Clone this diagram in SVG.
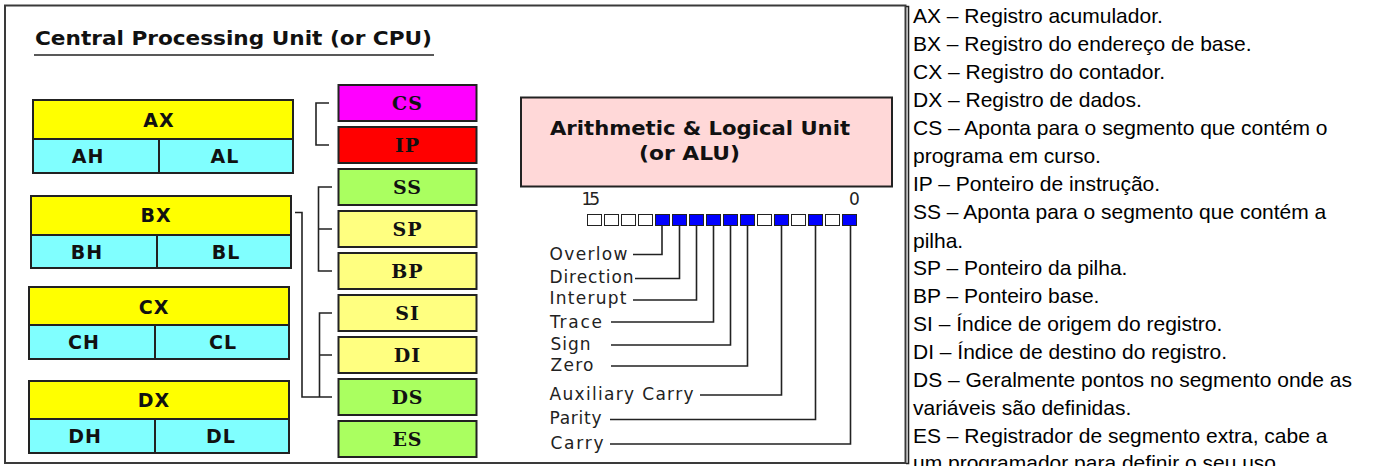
<svg xmlns="http://www.w3.org/2000/svg" width="1375" height="466" viewBox="0 0 1375 466">
  <style>
    .frame { fill: #ffffff; stroke: #3a3a3a; stroke-width: 2; }
    .rule { stroke: #222; stroke-width: 1.6; fill: none; }
    .cell { stroke: #222; stroke-width: 2; }
    .hi { fill: #ffff00; }
    .lo { fill: #80ffff; }
    .seg { stroke: #222; stroke-width: 2; }
    .reglbl { font-family: "DejaVu Sans", sans-serif; font-weight: bold; font-size: 19px; fill: #111; text-anchor: middle; letter-spacing: 1px; }
    .seglbl { font-family: "DejaVu Serif", serif; font-weight: bold; font-size: 19px; fill: #111; text-anchor: middle; letter-spacing: 1px; }
    .title { font-family: "DejaVu Sans", sans-serif; font-weight: bold; font-size: 20px; fill: #111; }
    .flag { font-family: "DejaVu Sans", sans-serif; font-size: 17px; fill: #222; }
    .bit { stroke: #222; stroke-width: 1; }
    .on { fill: #0000ff; }
    .off { fill: #ffffff; }
    .link { stroke: #222; stroke-width: 1.6; fill: none; }
    .note { font-family: "Liberation Sans", Arial, sans-serif; font-size: 21px; fill: #000; }
  </style>

  <!-- outer panel -->
  <rect class="frame" x="5" y="5.5" width="900.5" height="457.5"/>
  <path class="rule" d="M906,6.5 H908.5 V463.5 H906"/>

  <!-- heading -->
  <text class="title" x="35" y="45" textLength="397" lengthAdjust="spacingAndGlyphs">Central Processing Unit (or CPU)</text>
  <line class="rule" x1="34" y1="55" x2="434" y2="55"/>

  <!-- general purpose registers -->
  <g id="reg-ax">
    <rect class="cell hi" x="33" y="100" width="260" height="39"/>
    <rect class="cell lo" x="33" y="139" width="260" height="34"/>
    <line class="cell" x1="159" y1="139" x2="159" y2="173"/>
    <text class="reglbl" x="159" y="127">AX</text>
    <text class="reglbl" x="88" y="163">AH</text>
    <text class="reglbl" x="225" y="163">AL</text>
  </g>
  <g id="reg-bx">
    <rect class="cell hi" x="31" y="196" width="260" height="39"/>
    <rect class="cell lo" x="31" y="235" width="260" height="33"/>
    <line class="cell" x1="157" y1="235" x2="157" y2="268"/>
    <text class="reglbl" x="156" y="222">BX</text>
    <text class="reglbl" x="87" y="259">BH</text>
    <text class="reglbl" x="226" y="259">BL</text>
  </g>
  <g id="reg-cx">
    <rect class="cell hi" x="29" y="287" width="260" height="38"/>
    <rect class="cell lo" x="29" y="325" width="260" height="34"/>
    <line class="cell" x1="155" y1="325" x2="155" y2="359"/>
    <text class="reglbl" x="154" y="314">CX</text>
    <text class="reglbl" x="84" y="349">CH</text>
    <text class="reglbl" x="223" y="349">CL</text>
  </g>
  <g id="reg-dx">
    <rect class="cell hi" x="29" y="381" width="260" height="38"/>
    <rect class="cell lo" x="29" y="419" width="260" height="34"/>
    <line class="cell" x1="155" y1="419" x2="155" y2="453"/>
    <text class="reglbl" x="154" y="407">DX</text>
    <text class="reglbl" x="85" y="443">DH</text>
    <text class="reglbl" x="221" y="443">DL</text>
  </g>

  <!-- segment, pointer and index registers -->
  <g id="reg-cs">
    <rect class="seg" fill="#ff00ff" x="338.5" y="85" width="138" height="36"/>
    <text class="seglbl" x="407.5" y="110">CS</text>
  </g>
  <g id="reg-ip">
    <rect class="seg" fill="#ff0000" x="338.5" y="127" width="138" height="36"/>
    <text class="seglbl" x="407.5" y="152">IP</text>
  </g>
  <g id="reg-ss">
    <rect class="seg" fill="#aaff60" x="338.5" y="169" width="138" height="36"/>
    <text class="seglbl" x="407.5" y="194">SS</text>
  </g>
  <g id="reg-sp">
    <rect class="seg" fill="#ffff80" x="338.5" y="211" width="138" height="36"/>
    <text class="seglbl" x="407.5" y="236">SP</text>
  </g>
  <g id="reg-bp">
    <rect class="seg" fill="#ffff80" x="338.5" y="253" width="138" height="36"/>
    <text class="seglbl" x="407.5" y="278">BP</text>
  </g>
  <g id="reg-si">
    <rect class="seg" fill="#ffff80" x="338.5" y="295" width="138" height="36"/>
    <text class="seglbl" x="407.5" y="320">SI</text>
  </g>
  <g id="reg-di">
    <rect class="seg" fill="#ffff80" x="338.5" y="337" width="138" height="36"/>
    <text class="seglbl" x="407.5" y="362">DI</text>
  </g>
  <g id="reg-ds">
    <rect class="seg" fill="#aaff60" x="338.5" y="379" width="138" height="36"/>
    <text class="seglbl" x="407.5" y="404">DS</text>
  </g>
  <g id="reg-es">
    <rect class="seg" fill="#aaff60" x="338.5" y="421" width="138" height="36"/>
    <text class="seglbl" x="407.5" y="446">ES</text>
  </g>

  <!-- arithmetic and logic unit -->
  <g id="alu">
    <rect class="seg" fill="#ffd8d8" x="521" y="97.5" width="371" height="89"/>
    <text class="title" x="550" y="135" textLength="300" lengthAdjust="spacingAndGlyphs">Arithmetic &amp; Logical Unit</text>
    <text class="title" x="639" y="160" textLength="101" lengthAdjust="spacingAndGlyphs">(or ALU)</text>
  </g>

  <!-- flags register, bit 15 on the left -->
  <g id="flags">
    <text class="flag" x="581.5" y="205" font-size="15" textLength="18.5" lengthAdjust="spacing">15</text>
    <text class="flag" x="849" y="205" font-size="15">0</text>
    <rect class="bit off" x="587.5" y="214.5" width="14" height="11"/>
    <rect class="bit off" x="604.5" y="214.5" width="14" height="11"/>
    <rect class="bit off" x="621.5" y="214.5" width="14" height="11"/>
    <rect class="bit off" x="638.5" y="214.5" width="14" height="11"/>
    <rect class="bit on" x="655.5" y="214.5" width="14" height="11"/>
    <rect class="bit on" x="672.5" y="214.5" width="14" height="11"/>
    <rect class="bit on" x="689.5" y="214.5" width="14" height="11"/>
    <rect class="bit on" x="706.5" y="214.5" width="14" height="11"/>
    <rect class="bit on" x="723.5" y="214.5" width="14" height="11"/>
    <rect class="bit on" x="740.5" y="214.5" width="14" height="11"/>
    <rect class="bit off" x="757.5" y="214.5" width="14" height="11"/>
    <rect class="bit on" x="774.5" y="214.5" width="14" height="11"/>
    <rect class="bit off" x="791.5" y="214.5" width="14" height="11"/>
    <rect class="bit on" x="808.5" y="214.5" width="14" height="11"/>
    <rect class="bit off" x="825.5" y="214.5" width="14" height="11"/>
    <rect class="bit on" x="842.5" y="214.5" width="14" height="11"/>

    <text class="flag" x="549.5" y="260" textLength="78" lengthAdjust="spacing">Overlow</text>
    <text class="flag" x="549.5" y="282.5" textLength="84" lengthAdjust="spacing">Direction</text>
    <text class="flag" x="549.5" y="303.5" textLength="77" lengthAdjust="spacing">Interupt</text>
    <text class="flag" x="550" y="327.5" textLength="52" lengthAdjust="spacing">Trace</text>
    <text class="flag" x="550.5" y="350" textLength="40" lengthAdjust="spacing">Sign</text>
    <text class="flag" x="550.5" y="371" textLength="43" lengthAdjust="spacing">Zero</text>
    <text class="flag" x="549.5" y="400" textLength="144" lengthAdjust="spacing">Auxiliary Carry</text>
    <text class="flag" x="549.5" y="424" textLength="52" lengthAdjust="spacing">Parity</text>
    <text class="flag" x="550.5" y="449" textLength="53" lengthAdjust="spacing">Carry</text>
  </g>

  <!-- connectors -->
  <g id="connectors">
    <path class="link" d="M329,103 H316 V145 H329"/>
    <path class="link" d="M332,187 H318.5 V271 H332 M318.5,229 H332"/>
    <path class="link" d="M295,212.5 H302 V397 H332"/>
    <path class="link" d="M332,313 H319.5 V397 M319.5,355 H332"/>

    <path class="link" d="M633,254.5 H662 V226"/>
    <path class="link" d="M635,278.5 H679.5 V226"/>
    <path class="link" d="M633,300 H696.5 V226"/>
    <path class="link" d="M611,322 H713.5 V226"/>
    <path class="link" d="M611,345 H730.5 V226"/>
    <path class="link" d="M611,366 H747.5 V226"/>
    <path class="link" d="M700,395 H781.5 V226"/>
    <path class="link" d="M610,419.5 H815.5 V226"/>
    <path class="link" d="M610,444 H850.5 V226"/>
  </g>

  <!-- register descriptions -->
  <g id="notes">
    <text class="note" x="913" y="23.3">AX – Registro acumulador.</text>
    <text class="note" x="913" y="51.3">BX – Registro do endereço de base.</text>
    <text class="note" x="913" y="79.2">CX – Registro do contador.</text>
    <text class="note" x="913" y="107.2">DX – Registro de dados.</text>
    <text class="note" x="913" y="135.1">CS – Aponta para o segmento que contém o</text>
    <text class="note" x="913" y="163.1">programa em curso.</text>
    <text class="note" x="913" y="191">IP – Ponteiro de instrução.</text>
    <text class="note" x="913" y="218.5">SS – Aponta para o segmento que contém a</text>
    <text class="note" x="913" y="247.5">pilha.</text>
    <text class="note" x="913" y="275.3">SP – Ponteiro da pilha.</text>
    <text class="note" x="913" y="303.2">BP – Ponteiro base.</text>
    <text class="note" x="913" y="331.2">SI – Índice de origem do registro.</text>
    <text class="note" x="913" y="359">DI – Índice de destino do registro.</text>
    <text class="note" x="913" y="386.8">DS – Geralmente pontos no segmento onde as</text>
    <text class="note" x="913" y="414.8">variáveis são definidas.</text>
    <text class="note" x="913" y="442.7">ES – Registrador de segmento extra, cabe a</text>
    <text class="note" x="913" y="469.5">um programador para definir o seu uso.</text>
  </g>
</svg>
